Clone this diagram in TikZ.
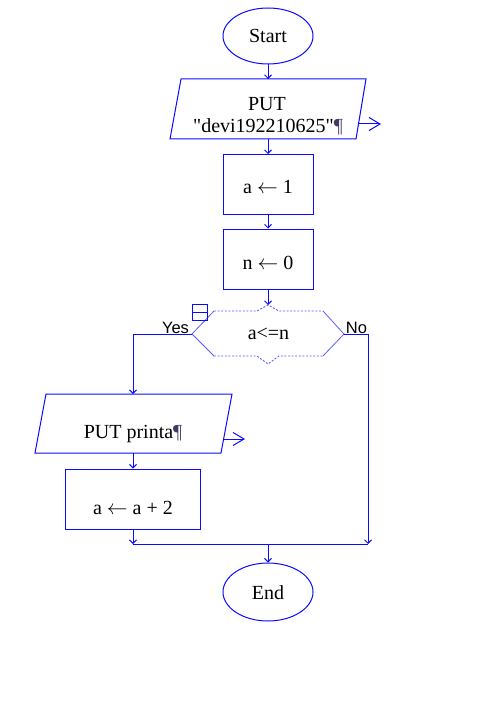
\documentclass[tikz,border=0pt]{standalone}
\usepackage{fontspec}
\setmainfont{Liberation Serif}[Ligatures=TeXOff]
\newfontfamily\lblfont{Liberation Sans}
\usetikzlibrary{arrows.meta,shapes.geometric}
\definecolor{fc}{RGB}{10,10,255}
\definecolor{dotc}{RGB}{90,90,255}
\definecolor{pilc}{RGB}{60,60,100}
\newcommand{\pil}{\textcolor{pilc}{¶}}
\newcommand{\la}{ $\leftarrow$ }
\begin{document}
\begin{tikzpicture}[x=1pt,y=-1pt,
  shp/.style={draw=fc, line width=1pt},
  ell/.style={shp, ellipse, inner sep=0pt},
  box/.style={shp, rectangle, inner sep=0pt},
  wire/.style={draw=fc, line width=1pt},
  conn/.style={draw=fc, line width=1pt, -{Straight Barb[length=3.5pt,width=7pt]}},
  outarr/.style={draw=fc, line width=1pt, -{Straight Barb[length=11pt,width=13pt]}},
  diag/.style={draw=dotc, line width=0.8pt},
  dotl/.style={draw=dotc, line width=0.9pt, dash pattern=on 2pt off 1.6pt},
  txt/.style={font=\fontsize{20}{22}\selectfont, anchor=base, inner sep=0pt},
  lbl/.style={font=\lblfont\fontsize{16.5}{18}\selectfont, anchor=base, inner sep=0pt}]
\useasboundingbox (0,0) rectangle (483,711);

% Start
\node[ell, minimum width=90pt, minimum height=56pt] (start) at (268,36) {};
\node[txt] (tstart) at (268,43) {Start};

% PUT "devi..."
\draw[shp] (181,79) -- (366,79) -- (356,139) -- (170,139) -- cycle;
\coordinate (p1n) at (268,79);
\coordinate (p1s) at (268,139);
\coordinate (p1e) at (358.5,124);
\coordinate (p1o) at (381,124);
\node[txt] (tp1a) at (267,111) {PUT};
\node[txt] (tp1b) at (268,133) {"devi192210625"\pil};

% a <- 1
\node[box, minimum width=90pt, minimum height=60pt] (a1) at (268,184.5) {};
\node[txt] (ta1) at (268,194) {a\la 1};

% n <- 0
\node[box, minimum width=90pt, minimum height=60pt] (n0) at (268,259) {};
\node[txt] (tn0) at (268,269) {n\la 0};

% decision
\coordinate (dn) at (268,305);
\coordinate (dw) at (192,334);
\coordinate (de) at (344,334);
\draw[diag] (214,356) -- (dw) -- (214,311);
\draw[diag] (323,311) -- (de) -- (323,356);
\draw[dotl] (214,311) -- (257,311) -- (dn) -- (279,311) -- (323,311);
\draw[dotl] (214,356) -- (257,356) -- (268,364) -- (279,356) -- (323,356);
\node[txt] (tdec) at (268.5,339) {a<=n};
\node[box, line width=0.9pt, minimum width=15pt, minimum height=16pt] (icon) at (199.5,312) {};
\draw[wire, line width=0.9pt] (icon.west) -- (icon.east);
\node[lbl] (yes) at (175.5,333) {Yes};
\node[lbl] (no) at (356.5,333) {No};

% PUT printa
\draw[shp] (46,394) -- (232,394) -- (221,453) -- (35,453) -- cycle;
\coordinate (p2n) at (133,394);
\coordinate (p2s) at (133,453);
\coordinate (p2e) at (223.5,439);
\coordinate (p2o) at (245,439);
\node[txt] (tp2) at (133,438) {PUT printa\pil};

% a <- a + 2
\node[box, minimum width=135pt, minimum height=60pt] (a2) at (133,499) {};
\node[txt] (ta2) at (133,514) {a\la a + 2};

% End
\node[ell, minimum width=90pt, minimum height=58pt] (end) at (268,592) {};
\node[txt] (tend) at (268,599) {End};

% junction points
\coordinate (jl) at (133,544);
\coordinate (jr) at (368,544);
\coordinate (jm) at (268,544);
\coordinate (yc) at (133,334);
\coordinate (nc) at (368,334);

% connectors
\draw[conn] (start.south) -- (p1n);
\draw[outarr] (p1e) -- (p1o);
\draw[conn] (p1s) -- (a1.north);
\draw[conn] (a1.south) -- (n0.north);
\draw[conn] (n0.south) -- (dn);
\draw[conn] (dw) -- (yc) -- (p2n);
\draw[conn] (de) -- (nc) -- (jr);
\draw[outarr] (p2e) -- (p2o);
\draw[conn] (p2s) -- (a2.north);
\draw[conn] (a2.south) -- (jl);
\draw[wire] (jl) -- (jr);
\draw[conn] (jm) -- (end.north);
\end{tikzpicture}
\end{document}
